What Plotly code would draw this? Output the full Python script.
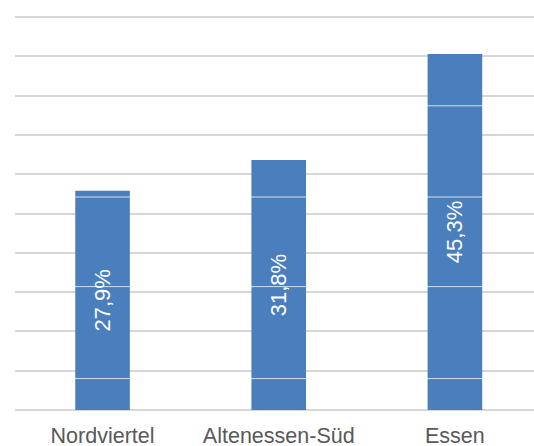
import plotly.graph_objects as go

# Share of population per district (percent)
districts = ["Nordviertel", "Altenessen-Süd", "Essen"]
shares = [27.9, 31.8, 45.3]

# Y axis: 0–50 % in steps of 5, tick labels hidden
y_max = 50
y_step = 5

# Thin white separators running across the bars
separator_levels = [4.0, 15.7, 27.1, 38.7]

bar_color = "#4A7EBD"
grid_color = "#D6D6D6"
label_color = "#595959"
font_family = "Liberation Sans, Arial, sans-serif"

labels = [f"{v:.1f}".replace(".", ",") + "%" for v in shares]

fig = go.Figure(
    go.Bar(
        x=districts,
        y=shares,
        width=0.31,
        marker=dict(color=bar_color, line=dict(width=0)),
        text=labels,
        textposition="inside",
        insidetextanchor="middle",
        textangle=-90,
        textfont=dict(color="white", size=22, family=font_family),
        hoverinfo="x+y",
    )
)

for lvl in separator_levels:
    fig.add_shape(
        type="line",
        xref="paper",
        yref="y",
        x0=0,
        x1=1,
        y0=lvl,
        y1=lvl,
        line=dict(color="rgba(255,255,255,0.75)", width=1),
        layer="above",
    )

# padding (about 3 px) so the 0 % and 50 % grid lines stay inside the plot area
pad = 0.38

fig.update_layout(
    width=534,
    height=446,
    margin=dict(l=15, r=0, t=14, b=33),
    paper_bgcolor="white",
    plot_bgcolor="white",
    showlegend=False,
    font=dict(family=font_family, color=label_color),
    xaxis=dict(
        range=[-0.497, 2.449],
        showgrid=False,
        zeroline=False,
        showline=False,
        ticks="",
        automargin=False,
        ticklabelstandoff=7,
        tickfont=dict(size=21.5, color=label_color),
    ),
    yaxis=dict(
        range=[-pad, y_max + pad],
        tick0=0,
        dtick=y_step,
        showgrid=True,
        gridcolor=grid_color,
        gridwidth=1.6,
        zeroline=False,
        showline=False,
        showticklabels=False,
        automargin=False,
        ticks="",
    ),
)

fig.write_html("out.html")
